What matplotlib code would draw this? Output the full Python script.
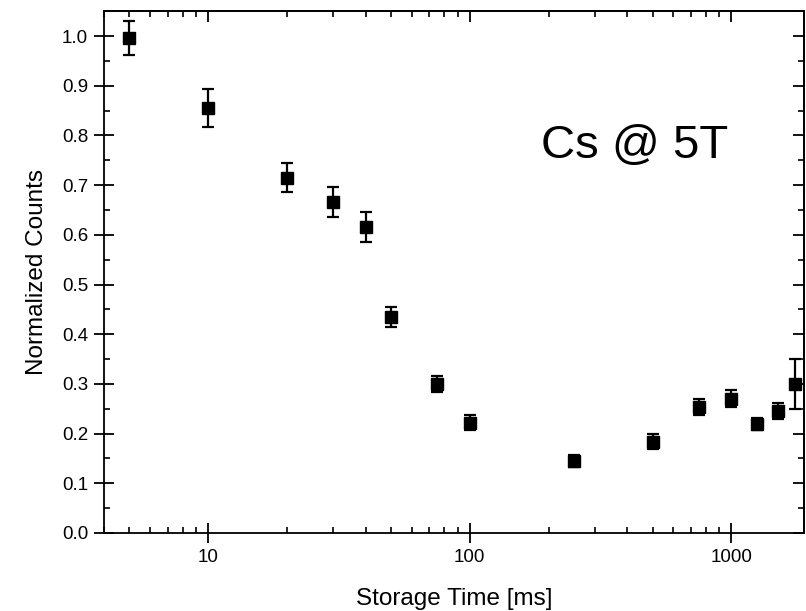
import matplotlib
matplotlib.use("Agg")
import matplotlib.pyplot as plt
from matplotlib.ticker import FixedLocator, MultipleLocator, FormatStrFormatter, LogLocator, NullFormatter

plt.rcParams['font.family'] = ['Liberation Sans', 'DejaVu Sans']

storage_time = [5, 10, 20, 30, 40, 50, 75, 100, 250, 500, 750, 1000, 1250, 1500, 1750]
counts = [0.996, 0.855, 0.715, 0.666, 0.615, 0.435, 0.299, 0.222, 0.145, 0.184, 0.254, 0.270, 0.219, 0.245, 0.300]
errors = [0.035, 0.038, 0.029, 0.030, 0.030, 0.020, 0.016, 0.015, 0.012, 0.015, 0.016, 0.017, 0.012, 0.016, 0.051]
x_ticks = [10, 100, 1000]
x_ticklabels = ["10", "100", "1000"]

fig = plt.figure(figsize=(8.06, 6.11), dpi=100)
ax = fig.add_axes([0.129, 0.1277, 0.869, 0.854])

ax.errorbar(storage_time, counts, yerr=errors, fmt='s', color='black', ms=8.5,
            ecolor='black', elinewidth=1.6, capsize=4.5, capthick=1.6, zorder=3)

ax.set_xscale('log')
ax.set_xlim(4, 1900)
ax.set_ylim(0, 1.05)

ax.xaxis.set_major_locator(FixedLocator(x_ticks))
ax.set_xticklabels(x_ticklabels)
ax.xaxis.set_minor_locator(LogLocator(base=10, subs=range(2, 10)))
ax.xaxis.set_minor_formatter(NullFormatter())
ax.yaxis.set_major_locator(MultipleLocator(0.1))
ax.yaxis.set_minor_locator(MultipleLocator(0.05))
ax.yaxis.set_major_formatter(FormatStrFormatter('%.1f'))

for s in ax.spines.values():
    s.set_linewidth(1.3)

ax.tick_params(which='major', direction='inout', length=15, width=1.3, labelsize=13.5,
               top=False, right=False, pad=4)
ax.tick_params(which='minor', direction='in', length=4, width=1.2, top=False, right=False)

# top and right axes: inward ticks, no labels
sx = ax.secondary_xaxis('top')
sx.xaxis.set_major_locator(FixedLocator(x_ticks))
sx.xaxis.set_minor_locator(LogLocator(base=10, subs=range(2, 10)))
sx.xaxis.set_minor_formatter(NullFormatter())
sx.tick_params(which='major', direction='in', length=8, width=1.3, labeltop=False)
sx.tick_params(which='minor', direction='in', length=4, width=1.2)
sx.spines['top'].set_linewidth(1.3)

sy = ax.secondary_yaxis('right')
sy.yaxis.set_major_locator(MultipleLocator(0.1))
sy.yaxis.set_minor_locator(MultipleLocator(0.05))
sy.tick_params(which='major', direction='in', length=8, width=1.3, labelright=False)
sy.tick_params(which='minor', direction='in', length=4, width=1.2)
sy.spines['right'].set_linewidth(1.3)

ax.set_xlabel('Storage Time [ms]', fontsize=17.5, labelpad=16)
ax.set_ylabel('Normalized Counts', fontsize=17.5, labelpad=10)

ax.text(0.624, 0.718, 'Cs @ 5T', transform=ax.transAxes, fontsize=34,
        ha='left', va='baseline', color='black')

fig.savefig('out.png', dpi=100)
